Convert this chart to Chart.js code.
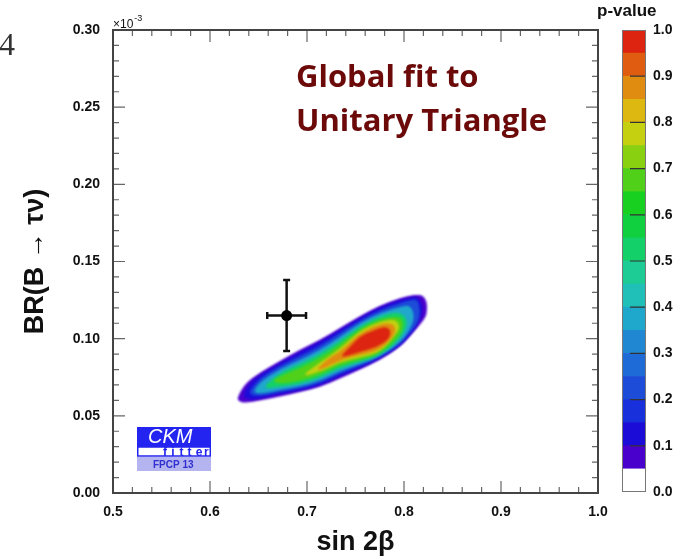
<!DOCTYPE html>
<html>
<head>
<meta charset="utf-8">
<script src="https://cdn.jsdelivr.net/npm/chart.js@4.4.0/dist/chart.umd.min.js"></script>
<style>
  html, body { margin: 0; padding: 0; background: #fff; }
  #wrap { position: relative; width: 689px; height: 559px; overflow: hidden; }
  #fitChart { position: absolute; left: 0; top: 0; }
  #pvalueBar { position: absolute; left: 590px; top: 0; }
</style>
</head>
<body>
<div id="wrap">
  <canvas id="fitChart" width="689" height="559"></canvas>
  <canvas id="pvalueBar" width="99" height="559"></canvas>
</div>

<script>
// tick labels
var xTickLabels = ['0.5', '0.6', '0.7', '0.8', '0.9', '1.0'];
var yTickLabels = ['0.00', '0.05', '0.10', '0.15', '0.20', '0.25', '0.30'];

// p-value colour scale, 0.05 wide steps
var pvalueEdges = [0.00, 0.05, 0.10, 0.15, 0.20, 0.25, 0.30, 0.35, 0.40, 0.45, 0.50,
                   0.55, 0.60, 0.65, 0.70, 0.75, 0.80, 0.85, 0.90, 0.95, 1.00];
var pvalueColors = ['#ffffff', '#4a00cc', '#1c0cd8', '#1830dc', '#1c4cd8', '#1e6ad6',
                    '#2088d2', '#20a8cc', '#20c0b8', '#1ccc94', '#14d068', '#10d040',
                    '#18d020', '#50d018', '#88d010', '#c4d010', '#dcb810', '#e08c10',
                    '#e05c10', '#dc2410'];

// measured point: sin2beta, BR(B->tau nu) in units of 1e-3
var measX = 0.679, measY = 0.115;
var measErrX = 0.020, measErrY = 0.023;

// global fit p-value contours, [sin2beta, BR x 1e3]
var contourLevels = [0.05, 0.10, 0.20, 0.30, 0.45, 0.60, 0.75, 0.85, 0.95];

var contour05 = [
  [0.6278, 0.0616], [0.6361, 0.0710], [0.6515, 0.0781], [0.6722, 0.0855], [0.6928, 0.0929],
  [0.7134, 0.0992], [0.7340, 0.1069], [0.7546, 0.1147], [0.7753, 0.1216], [0.7959, 0.1264],
  [0.8113, 0.1285], [0.8196, 0.1280], [0.8237, 0.1238], [0.8237, 0.1186], [0.8227, 0.1141],
  [0.8144, 0.1076], [0.8062, 0.1016], [0.7959, 0.0946], [0.7753, 0.0862], [0.7546, 0.0800],
  [0.7340, 0.0742], [0.7134, 0.0687], [0.6928, 0.0655], [0.6722, 0.0626], [0.6515, 0.0599],
  [0.6361, 0.0583], [0.6299, 0.0593]
];
var contour10 = [
  [0.6330, 0.0629], [0.6412, 0.0716], [0.6515, 0.0765], [0.6722, 0.0843], [0.6928, 0.0914],
  [0.7134, 0.0979], [0.7340, 0.1056], [0.7546, 0.1134], [0.7753, 0.1205], [0.7959, 0.1251],
  [0.8062, 0.1267], [0.8144, 0.1274], [0.8206, 0.1199], [0.8144, 0.1089], [0.8062, 0.1024],
  [0.7959, 0.0953], [0.7753, 0.0872], [0.7546, 0.0810], [0.7340, 0.0758], [0.7134, 0.0697],
  [0.6928, 0.0664], [0.6722, 0.0642], [0.6515, 0.0612], [0.6412, 0.0603]
];
var contour20 = [
  [0.6381, 0.0642], [0.6515, 0.0745], [0.6722, 0.0823], [0.6928, 0.0888], [0.7134, 0.0953],
  [0.7340, 0.1037], [0.7546, 0.1118], [0.7753, 0.1186], [0.7959, 0.1231], [0.8062, 0.1251],
  [0.8144, 0.1257], [0.8170, 0.1167], [0.8144, 0.1102], [0.8062, 0.1037], [0.7959, 0.0962],
  [0.7753, 0.0878], [0.7546, 0.0823], [0.7340, 0.0774], [0.7134, 0.0710], [0.6928, 0.0677],
  [0.6722, 0.0655], [0.6515, 0.0625]
];
var contour30 = [
  [0.6443, 0.0655], [0.6515, 0.0719], [0.6722, 0.0804], [0.6928, 0.0862], [0.7134, 0.0927],
  [0.7340, 0.1011], [0.7546, 0.1102], [0.7753, 0.1167], [0.7959, 0.1205], [0.8062, 0.1218],
  [0.8113, 0.1147], [0.8062, 0.1056], [0.7959, 0.0975], [0.7753, 0.0885], [0.7546, 0.0836],
  [0.7340, 0.0791], [0.7134, 0.0726], [0.6928, 0.0690], [0.6722, 0.0668], [0.6515, 0.0642]
];
var contour45 = [
  [0.6526, 0.0674], [0.6722, 0.0781], [0.6928, 0.0836], [0.7134, 0.0901], [0.7340, 0.0985],
  [0.7546, 0.1082], [0.7753, 0.1147], [0.7959, 0.1180], [0.8052, 0.1108], [0.7959, 0.0992],
  [0.7753, 0.0891], [0.7546, 0.0849], [0.7340, 0.0810], [0.7134, 0.0745], [0.6928, 0.0706],
  [0.6722, 0.0687]
];
var contour60 = [
  [0.6639, 0.0726], [0.6722, 0.0758], [0.6928, 0.0810], [0.7134, 0.0875], [0.7340, 0.0959],
  [0.7546, 0.1066], [0.7753, 0.1128], [0.7959, 0.1147], [0.8000, 0.1095], [0.7959, 0.1017],
  [0.7753, 0.0901], [0.7546, 0.0862], [0.7340, 0.0830], [0.7134, 0.0765], [0.6928, 0.0726],
  [0.6722, 0.0706]
];
var contour75 = [
  [0.6928, 0.0752], [0.7134, 0.0846], [0.7340, 0.0933], [0.7546, 0.1053], [0.7753, 0.1111],
  [0.7907, 0.1128], [0.7959, 0.1082], [0.7928, 0.1037], [0.7753, 0.0911], [0.7546, 0.0878],
  [0.7340, 0.0849], [0.7134, 0.0784]
];
var contour85 = [
  [0.7082, 0.0791], [0.7237, 0.0881], [0.7340, 0.0914], [0.7546, 0.1037], [0.7753, 0.1095],
  [0.7876, 0.1102], [0.7918, 0.1063], [0.7887, 0.1011], [0.7753, 0.0927], [0.7546, 0.0894],
  [0.7340, 0.0862], [0.7186, 0.0810]
];
var contour95 = [
  [0.7340, 0.0881], [0.7443, 0.0946], [0.7546, 0.1017], [0.7670, 0.1050], [0.7784, 0.1076],
  [0.7845, 0.1069], [0.7866, 0.1037], [0.7835, 0.0992], [0.7722, 0.0946], [0.7546, 0.0914],
  [0.7412, 0.0888]
];

var contours = [contour05, contour10, contour20, contour30, contour45,
                contour60, contour75, contour85, contour95];

Chart.defaults.font.family = '"Liberation Sans", Arial, sans-serif';
Chart.defaults.color = '#111';

// colour of the band between one level and the next (leaning to its lower edge)
function bandColor(k) {
  var lo = contourLevels[k];
  var hi = k + 1 < contourLevels.length ? contourLevels[k + 1] : 1.0;
  var idx = Math.floor((lo + hi) / 2 / 0.05 - 0.4);
  return pvalueColors[Math.max(1, Math.min(pvalueColors.length - 1, idx))];
}

function toPoints(arr) {
  return arr.map(function (p) { return { x: p[0], y: p[1] }; });
}

var datasets = [
  {
    label: 'measurement',
    data: [{ x: measX, y: measY }],
    pointRadius: 5.5,
    pointBackgroundColor: '#000',
    pointBorderWidth: 0
  },
  {
    label: 'error x',
    data: [{ x: measX - measErrX, y: measY }, { x: measX + measErrX, y: measY }],
    showLine: true,
    borderColor: '#111',
    borderWidth: 2.5,
    pointStyle: 'line',
    pointRotation: 90,
    pointRadius: 3.5,
    pointBorderColor: '#111',
    pointBorderWidth: 2.5
  },
  {
    label: 'error y',
    data: [{ x: measX, y: measY - measErrY }, { x: measX, y: measY + measErrY }],
    showLine: true,
    borderColor: '#111',
    borderWidth: 2.5,
    pointStyle: 'line',
    pointRotation: 0,
    pointRadius: 3.5,
    pointBorderColor: '#111',
    pointBorderWidth: 2.5
  }
];
contours.forEach(function (c, k) {
  datasets.push({
    label: 'p > ' + contourLevels[k],
    data: toPoints(c),
    pointRadius: 0,
    showLine: false,
    backgroundColor: bandColor(k),
    contourLevel: contourLevels[k]
  });
});

// fills each contour dataset as a smooth closed shape, outer level first
var contourFill = {
  id: 'contourFill',
  beforeDatasetsDraw: function (chart) {
    var ctx = chart.ctx, a = chart.chartArea;
    ctx.save();
    ctx.beginPath();
    ctx.rect(a.left, a.top, a.right - a.left, a.bottom - a.top);
    ctx.clip();
    ctx.filter = 'blur(1.2px)';
    chart.data.datasets.forEach(function (ds, i) {
      if (ds.contourLevel === undefined) return;
      var pts = chart.getDatasetMeta(i).data;
      var n = pts.length;
      ctx.beginPath();
      ctx.moveTo((pts[n - 1].x + pts[0].x) / 2, (pts[n - 1].y + pts[0].y) / 2);
      for (var j = 0; j < n; j++) {
        var p = pts[j], q = pts[(j + 1) % n];
        ctx.quadraticCurveTo(p.x, p.y, (p.x + q.x) / 2, (p.y + q.y) / 2);
      }
      ctx.closePath();
      ctx.fillStyle = ds.backgroundColor;
      ctx.fill();
    });
    ctx.restore();
  }
};

// box round the plot with inward ticks on all four sides
var frameTicks = {
  id: 'frameTicks',
  afterDraw: function (chart) {
    var ctx = chart.ctx, a = chart.chartArea;
    var xs = chart.scales.x, ys = chart.scales.y;
    ctx.save();
    ctx.strokeStyle = '#666';
    ctx.lineWidth = 1.2;
    ctx.beginPath();
    xs.ticks.forEach(function (t) {
      var px = xs.getPixelForValue(t.value);
      var len = t.label ? 12 : 6;
      ctx.moveTo(px, a.bottom); ctx.lineTo(px, a.bottom - len);
      ctx.moveTo(px, a.top); ctx.lineTo(px, a.top + len);
    });
    ys.ticks.forEach(function (t) {
      var py = ys.getPixelForValue(t.value);
      var len = t.label ? 12 : 6;
      ctx.moveTo(a.left, py); ctx.lineTo(a.left + len, py);
      ctx.moveTo(a.right, py); ctx.lineTo(a.right - len, py);
    });
    ctx.stroke();
    ctx.strokeStyle = '#444';
    ctx.lineWidth = 2;
    ctx.strokeRect(a.left, a.top, a.right - a.left, a.bottom - a.top);
    ctx.restore();
  }
};

// exponent, panel number, caption and the CKMfitter badge
var decorations = {
  id: 'decorations',
  afterDraw: function (chart) {
    var ctx = chart.ctx, a = chart.chartArea;
    ctx.save();

    ctx.fillStyle = '#333';
    ctx.font = '32px "Liberation Serif", serif';
    ctx.textBaseline = 'alphabetic';
    ctx.fillText('4', -1, 55);

    ctx.fillStyle = '#111';
    ctx.font = '12px "Liberation Sans", Arial, sans-serif';
    ctx.fillText('\u00d710', a.left, a.top - 2);
    var w = ctx.measureText('\u00d710').width;
    ctx.font = '9px "Liberation Sans", Arial, sans-serif';
    ctx.fillText('-3', a.left + w + 1, a.top - 9);

    ctx.fillStyle = '#6c0a0a';
    ctx.font = 'bold 31px "Open Sans", sans-serif';
    ctx.fillText('Global fit to', 296, 87);
    ctx.fillText('Unitary Triangle', 296, 131);

    // badge
    var bx = a.left + 24, by = a.bottom - 66, bw = 74;
    ctx.fillStyle = '#2424f0';
    ctx.fillRect(bx, by, bw, 20);
    ctx.fillStyle = '#fff';
    ctx.font = 'italic 20px "Liberation Sans", Arial, sans-serif';
    ctx.fillText('CKM', bx + 11, by + 16);
    ctx.strokeStyle = '#2424f0';
    ctx.lineWidth = 1.5;
    ctx.strokeRect(bx + 0.75, by + 20, bw - 1.5, 9);
    ctx.fillStyle = '#2424f0';
    ctx.font = 'bold 12px "Liberation Sans", Arial, sans-serif';
    var letters = 'fitter';
    for (var i = 0; i < letters.length; i++) {
      ctx.fillText(letters[i], bx + 26 + i * 8.2, by + 29);
    }
    ctx.fillStyle = '#b4b4f0';
    ctx.fillRect(bx, by + 30, bw, 14);
    ctx.fillStyle = '#3030d0';
    ctx.font = 'bold 10px "Liberation Sans", Arial, sans-serif';
    ctx.fillText('FPCP 13', bx + 16, by + 41);

    ctx.restore();
  }
};

function tickLabel(list, digits) {
  return function (value) {
    var s = value.toFixed(digits);
    if (Math.abs(value - parseFloat(s)) > 1e-6) return '';
    return list.indexOf(s) >= 0 ? s : '';
  };
}

var ctx = document.getElementById('fitChart').getContext('2d');
var chart = new Chart(ctx, {
  type: 'scatter',
  data: { datasets: datasets },
  options: {
    responsive: false,
    animation: false,
    events: [],
    layout: { padding: { left: 0, right: 91, top: 30, bottom: 0 } },
    plugins: { legend: { display: false }, tooltip: { enabled: false } },
    scales: {
      x: {
        type: 'linear', min: 0.5, max: 1.0,
        ticks: {
          stepSize: 0.02, autoSkip: false, maxRotation: 0, padding: 11,
          font: { size: 14, weight: 'bold' }, color: '#111',
          callback: tickLabel(xTickLabels, 1)
        },
        grid: { display: false, drawTicks: false },
        border: { display: false },
        title: {
          display: true, text: 'sin 2\u03b2', color: '#111',
          font: { size: 27, weight: 'bold' }, padding: { top: 0, bottom: 0 }
        },
        afterFit: function (s) { s.height = 66; }
      },
      y: {
        type: 'linear', min: 0, max: 0.30,
        ticks: {
          stepSize: 0.01, autoSkip: false, padding: 13,
          font: { size: 14, weight: 'bold' }, color: '#111',
          callback: tickLabel(yTickLabels, 2)
        },
        grid: { display: false, drawTicks: false },
        border: { display: false },
        title: {
          display: true, text: 'BR(B \u2192 \u03c4\u03bd)', color: '#111',
          font: { size: 27, weight: 'bold' }, padding: { top: 19, bottom: 0 }
        },
        afterFit: function (s) { s.width = 113; }
      }
    }
  },
  plugins: [contourFill, frameTicks, decorations]
});

// colour bar: one floating bar per p-value step
var barFrame = {
  id: 'barFrame',
  afterDraw: function (c) {
    var g = c.ctx, a = c.chartArea, ys = c.scales.y;
    g.save();
    g.strokeStyle = '#333';
    g.lineWidth = 1.2;
    g.beginPath();
    ys.ticks.forEach(function (t) {
      if (t.value <= 0 || t.value >= 1) return;
      var py = ys.getPixelForValue(t.value);
      g.moveTo(a.right, py); g.lineTo(a.right - 16, py);
    });
    g.stroke();
    g.strokeStyle = '#777';
    g.lineWidth = 1;
    g.strokeRect(a.left + 0.5, a.top + 0.5, a.right - a.left - 1, a.bottom - a.top - 1);
    g.fillStyle = '#111';
    g.font = 'bold 17px "Liberation Sans", Arial, sans-serif';
    g.fillText('p-value', 7, 16);
    g.restore();
  }
};

var barCtx = document.getElementById('pvalueBar').getContext('2d');
var colorBar = new Chart(barCtx, {
  type: 'bar',
  data: {
    labels: ['p'],
    datasets: pvalueColors.map(function (c, i) {
      return {
        label: pvalueEdges[i] + '-' + pvalueEdges[i + 1],
        data: [[pvalueEdges[i], pvalueEdges[i + 1]]],
        backgroundColor: c,
        grouped: false,
        barPercentage: 1,
        categoryPercentage: 1,
        borderWidth: 0
      };
    })
  },
  options: {
    responsive: false,
    animation: false,
    events: [],
    layout: { padding: { left: 32, top: 30, bottom: 67, right: 0 } },
    plugins: { legend: { display: false }, tooltip: { enabled: false } },
    scales: {
      x: { display: false },
      y: {
        position: 'right', min: 0, max: 1,
        ticks: {
          stepSize: 0.1, padding: 7, color: '#111',
          font: { size: 14, weight: 'bold' },
          callback: function (v) { return v.toFixed(1); }
        },
        grid: { display: false, drawTicks: false },
        border: { display: false },
        afterFit: function (s) { s.width = 43; }
      }
    }
  },
  plugins: [barFrame]
});
</script>
</body>
</html>
